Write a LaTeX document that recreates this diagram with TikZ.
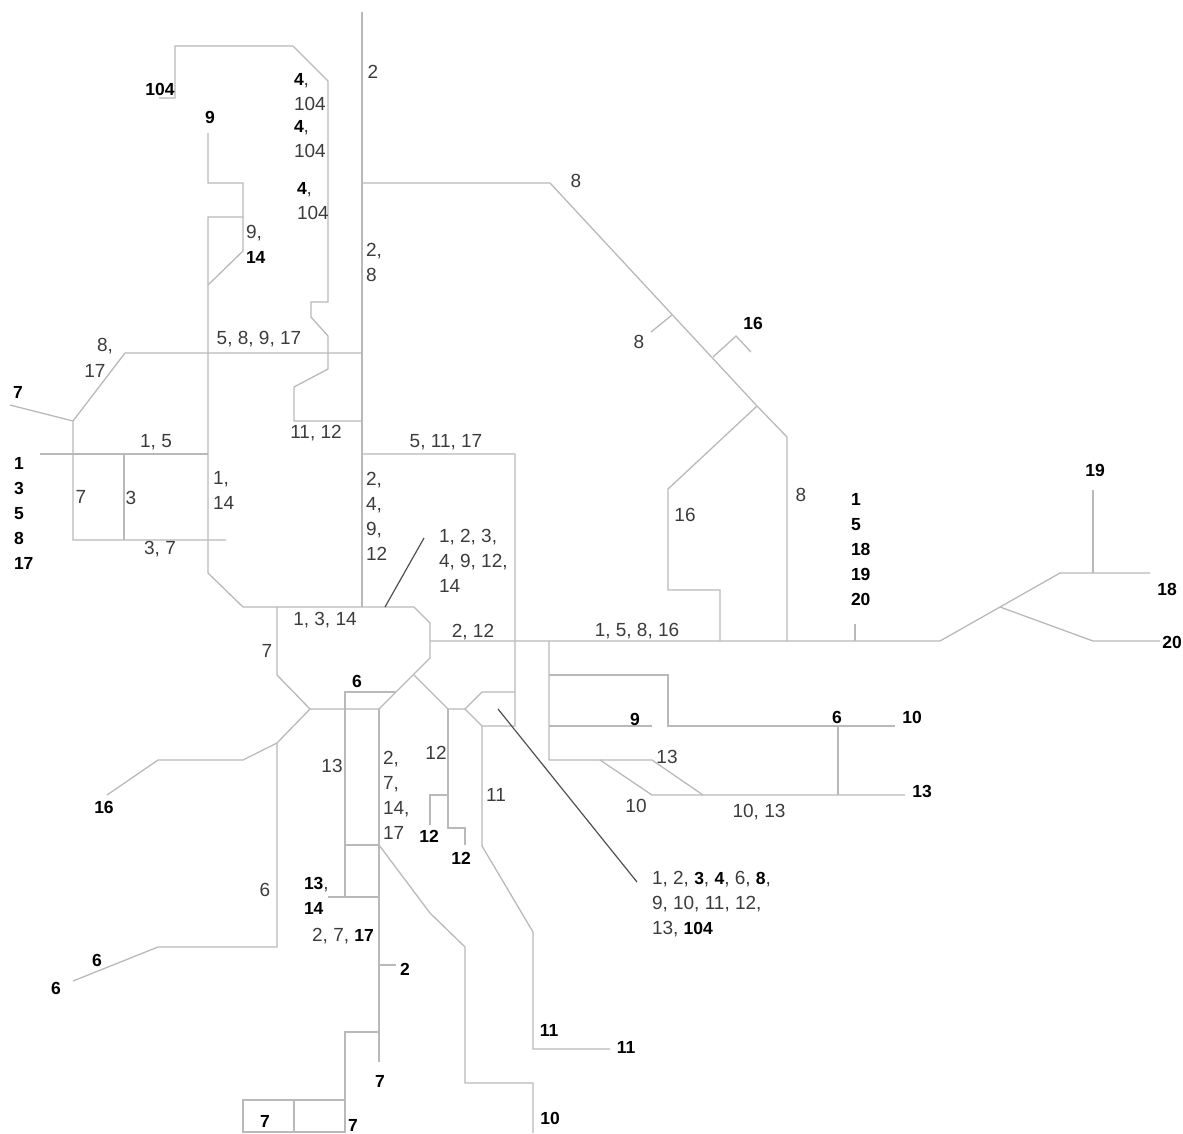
\documentclass[tikz,border=0pt]{standalone}
\usepackage{fontspec}
\setmainfont{Liberation Sans}
\definecolor{route}{HTML}{B9B9B9}
\definecolor{labelgray}{HTML}{3C3C3C}
\definecolor{leader}{HTML}{505050}
\tikzset{
  rt/.style={draw=route,line width=1.3pt,line join=miter},
  ldr/.style={draw=leader,line width=1.2pt},
  lb/.style={inner sep=0pt,outer sep=0pt,text=labelgray,font=\fontsize{19}{25}\selectfont,align=left},
  bl/.style={inner sep=0pt,outer sep=0pt,text=black,font=\fontsize{17.5}{25}\selectfont\bfseries,align=left}
}
\newcommand{\bb}[1]{\textcolor{black}{\fontsize{17.5}{25}\selectfont\bfseries #1}}
\begin{document}
\begin{tikzpicture}[x=1pt,y=-1pt]
\useasboundingbox (0,0) rectangle (1183,1133);
% north
\draw[rt] (362,12)--(362,607);
\draw[rt] (362,183)--(550,183)--(757,406)--(787,437)--(787,641);
\draw[rt] (672,315)--(651,332);
\draw[rt] (713,357)--(736,336)--(751,352);
\draw[rt] (757,406)--(668,489)--(668,590)--(720,590)--(720,641);
\draw[rt] (159,98)--(175,98)--(175,46)--(293,46)--(328,81)--(328,302)--(311,302)--(311,317)--(328,336)--(328,369)--(294,387)--(294,421)--(362,421);
\draw[rt] (208,133)--(208,183)--(243,183)--(243,251)--(208,285);
\draw[rt] (243,217)--(208,217)--(208,573)--(243,607)--(414,607)--(430,623)--(430,658)--(379,709)--(310,709);
% west
\draw[rt] (362,353)--(125,353)--(73,421)--(73,540)--(226,540);
\draw[rt] (10,405)--(73,421);
\draw[rt] (40,454)--(208,454);
\draw[rt] (124,454)--(124,540);
% centre-east
\draw[rt] (362,454)--(515,454)--(515,726)--(482,726)--(465,709)--(482,692)--(515,692);
\draw[rt] (414,675)--(448,709)--(465,709);
\draw[rt] (448,709)--(448,828)--(465,828)--(465,845);
\draw[rt] (448,795)--(430,795)--(430,825);
\draw[rt] (482,726)--(482,846)--(533,932)--(533,1049)--(610,1049);
% south-west
\draw[rt] (277,607)--(277,675)--(310,709)--(277,743)--(243,760)--(158,760)--(107,795);
\draw[rt] (277,743)--(277,947)--(158,947)--(73,981);
% south
\draw[rt] (396,692)--(345,692)--(345,897);
\draw[rt] (345,845)--(379,845);
\draw[rt] (379,709)--(379,1062);
\draw[rt] (379,845)--(430,913)--(465,947)--(465,1083)--(533,1083)--(533,1133);
\draw[rt] (328,897)--(379,897);
\draw[rt] (379,965)--(396,965);
\draw[rt] (379,1032)--(345,1032)--(345,1132)--(243,1132)--(243,1100)--(345,1100);
\draw[rt] (294,1100)--(294,1132);
% east
\draw[rt] (430,641)--(940,641)--(1060,573)--(1150,573);
\draw[rt] (1000,607)--(1093,641)--(1160,641);
\draw[rt] (1093,490)--(1093,573);
\draw[rt] (855,624)--(855,641);
\draw[rt] (549,641)--(549,760)--(600,760)--(652,795)--(905,795);
\draw[rt] (549,675)--(668,675)--(668,726)--(895,726);
\draw[rt] (549,726)--(652,726);
\draw[rt] (600,760)--(652,760)--(703,795);
\draw[rt] (838,726)--(838,795);
% leaders
\draw[ldr] (385,607)--(424,538);
\draw[ldr] (498,709)--(637,882);
% labels
\node[lb] (a1) at (373,72) {2};
\node[bl] (a2) at (160,89) {104};
\node[bl] (a3) at (210,117) {9};
\node[lb,anchor=west] (a4) at (294,92) {\bb{4}, \\104};
\node[lb,anchor=west] (a5) at (294,139) {\bb{4}, \\104};
\node[lb,anchor=west] (a6) at (297,201) {\bb{4}, \\104};
\node[lb,anchor=west] (a7) at (246,244) {9, \\\bb{14}};
\node[lb,anchor=west] (a8) at (366,262) {2, \\8};
\node[lb] (a9) at (576,181) {8};
\node[lb] (a10) at (639,342) {8};
\node[bl] (a11) at (753,323) {16};
\node[lb] (a12) at (105,346) {8,};
\node[lb] (a13) at (95,371) {17};
\node[lb] (a14) at (259,339) {5, 8, 9, 17};
\node[bl] (a15) at (18,392) {7};
\node[lb] (a16) at (156,442) {1, 5};
\node[lb] (a17) at (316,433) {11, 12};
\node[lb] (a18) at (446,442) {5, 11, 17};
\node[bl,anchor=west] (a19) at (14,513) {1\\3\\5\\8\\17};
\node[lb] (a20) at (81,497) {7};
\node[lb] (a21) at (131,498) {3};
\node[lb,anchor=west] (a22) at (213,490) {1, \\14};
\node[lb] (a23) at (160,549) {3, 7};
\node[lb,anchor=west] (a24) at (366,516) {2, \\4, \\9, \\12};
\node[lb,anchor=west] (a25) at (439,561) {1, 2, 3, \\4, 9, 12, \\14};
\node[lb] (a26) at (685,515) {16};
\node[lb] (a27) at (801,495) {8};
\node[bl,anchor=west] (a28) at (851,550) {1\\5\\18\\19\\20};
\node[bl] (a29) at (1095,470) {19};
\node[bl] (a30) at (1167,589) {18};
\node[bl] (a31) at (1172,642) {20};
\node[lb] (a32) at (325,620) {1, 3, 14};
\node[lb] (a33) at (267,651) {7};
\node[lb] (a34) at (473,632) {2, 12};
\node[lb] (a35) at (637,631) {1, 5, 8, 16};
\node[bl] (a36) at (357,681) {6};
\node[bl] (a37) at (635,719) {9};
\node[bl] (a38) at (837,717) {6};
\node[bl] (a39) at (912,717) {10};
\node[bl] (a40) at (922,791) {13};
\node[lb] (a41) at (667,757) {13};
\node[lb] (a42) at (636,806) {10};
\node[lb] (a43) at (759,812) {10, 13};
\node[lb] (a44) at (332,766) {13};
\node[lb,anchor=west] (a45) at (383,795) {2, \\7, \\14, \\17};
\node[lb] (a46) at (436,753) {12};
\node[lb] (a47) at (496,795) {11};
\node[bl] (a48) at (429,836) {12};
\node[bl] (a49) at (461,858) {12};
\node[bl] (a50) at (104,807) {16};
\node[lb] (a51) at (265,890) {6};
\node[lb,anchor=west] (a52) at (304,896) {\bb{13}, \\\bb{14}};
\node[lb] (a53) at (343,936) {2, 7, \bb{17}};
\node[bl] (a54) at (405,969) {2};
\node[bl] (a55) at (97,960) {6};
\node[bl] (a56) at (56,988) {6};
\node[bl] (a57) at (549,1030) {11};
\node[bl] (a58) at (626,1047) {11};
\node[bl] (a59) at (380,1081) {7};
\node[bl] (a60) at (550,1118) {10};
\node[bl] (a61) at (265,1121) {7};
\node[bl] (a62) at (353,1125) {7};
\node[lb,anchor=west] (a63) at (652,904) {1, 2, \bb{3}, \bb{4}, 6, \bb{8}, \\9, 10, 11, 12, \\13, \bb{104}};
\end{tikzpicture}
\end{document}
